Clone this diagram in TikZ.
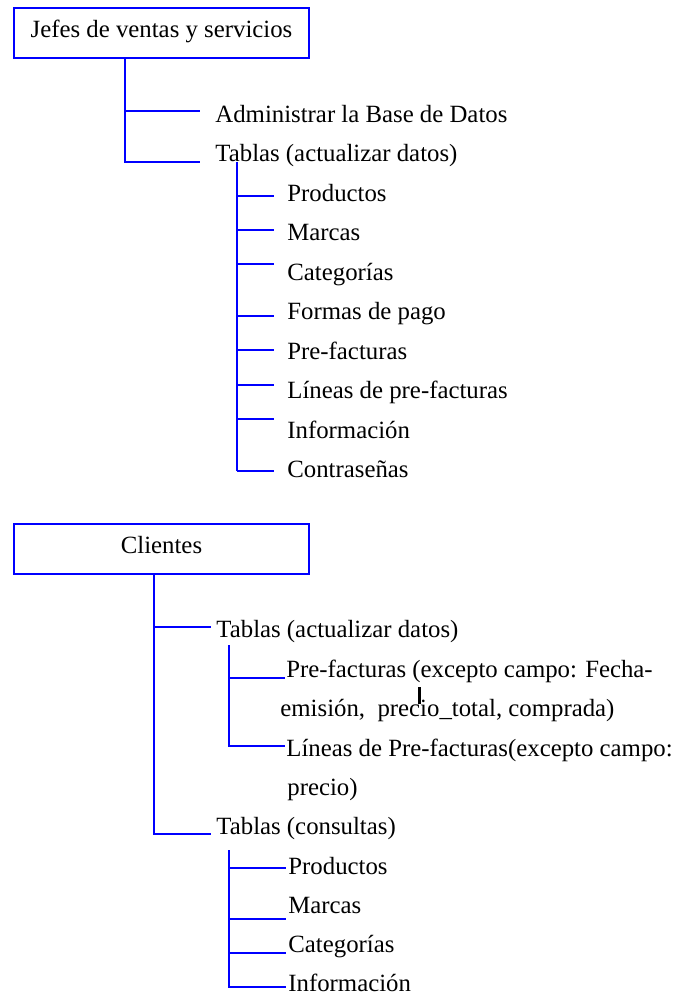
\documentclass[tikz,border=0pt]{standalone}
\usepackage{fontspec}
\setmainfont{Liberation Serif}
\usetikzlibrary{positioning}

\tikzset{
  rolbox/.style={draw=blue,line width=1pt,minimum width=147.5pt,minimum height=25pt,inner sep=0pt,text height=0.7em,text depth=0.25em},
  rama/.style={draw=blue,line width=1pt},
  item/.style={anchor=base west,inner sep=0pt}
}

\begin{document}
\begin{tikzpicture}[x=0.5pt,y=-0.5pt,font=\fontsize{12.4}{15}\selectfont]
\useasboundingbox (0,0) rectangle (674,996);
% jefes de ventas
\node[rolbox] (jefes) at (161.5,33){Jefes de ventas y servicios};
\node[item] (adm) at (215,122){Administrar la Base de Datos};
\node[item] (tab1) at (215,161.5){Tablas (actualizar datos)};
\draw[rama] (125,0 |- jefes.south) |- (200,162); \draw[rama] (125,111) -- (200,111);
\draw[rama] (237,0 |- tab1.base) -- (237,471);
\foreach \y/\b/\t [count=\i] in {201/196/Productos,240.5/230/Marcas,280/264/Categorías,319.5/316/Formas de pago,359/350/Pre-facturas,398.5/385/Líneas de pre-facturas,438/419/Información,477.5/471/Contraseñas} {\node[item] (j\i) at (287,\y){\t}; \draw[rama] (237,\b) -- (274,\b);}
% clientes
\node[rolbox] (clientes) at (161.5,549){Clientes};
\node[item] (tab2) at (216,637){Tablas (actualizar datos)};
\node[item] (pf1) at (286,677){Pre-facturas (excepto campo: Fecha-};
\node[item] (pf2) at (280,716){emisión,~~precio\_total, comprada)};
\node[item] (lp1) at (286,756){Líneas de Pre-facturas(excepto campo:};
\node[item] (lp2) at (287,795){precio)};
\node[item] (tab3) at (216,834){Tablas (consultas)};
\draw[rama] (154,0 |- clientes.south) |- (211,834); \draw[rama] (154,627) -- (211,627);
\draw[rama] (229,645) |- (285,746); \draw[rama] (229,678) -- (285,678);
\draw[line width=1.5pt] (419,687) -- (419,704);
\draw[rama] (229,850) |- (286,987);
\foreach \y/\b/\t [count=\i] in {874/868/Productos,913/919/Marcas,952/953/Categorías} {\node[item] (c\i) at (288,\y){\t}; \draw[rama] (229,\b) -- (286,\b);}
\node[item] (c4) at (288,991){Información};
\end{tikzpicture}
\end{document}
